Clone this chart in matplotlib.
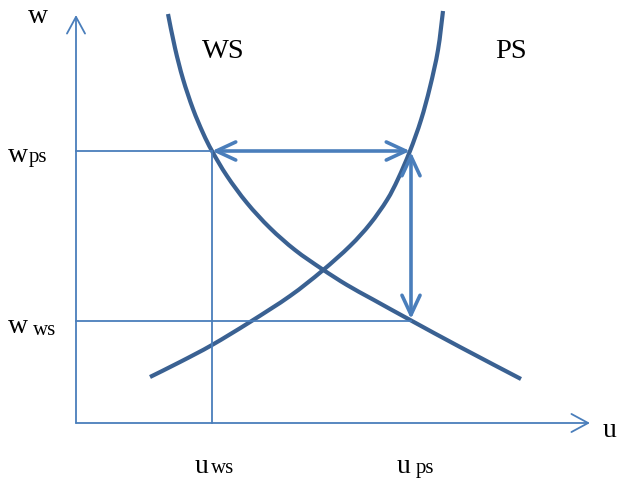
import matplotlib
matplotlib.use("Agg")
import matplotlib.pyplot as plt
import numpy as np
from matplotlib.path import Path
from matplotlib.patches import PathPatch

# diagram units: u to the right of the origin, w up from it (1 unit ~ 1 px)
ws_u = [92, 99, 107, 117, 127, 136, 151, 171, 194, 219, 246, 271, 297, 336, 384, 445]
ws_w = [409, 375, 344, 314, 290, 272, 247, 220, 195, 173, 154, 138, 123.5, 102, 76, 44]

ps_u = [74, 104, 136, 174, 214, 246, 274, 294, 311, 322, 334, 345, 354, 362, 367]
ps_w = [46, 61, 78, 101, 127, 152, 177, 199, 223, 244, 272, 303, 336, 373, 412]

u_ws, u_ps = 136, 335
w_ps, w_ws = 272, 102
u_max, w_max = 514, 408

curve_col = "#3a6192"
line_col = "#4a7ebb"
serif = ["Liberation Serif", "DejaVu Serif"]

fig = plt.figure(figsize=(6.25, 4.81), dpi=100)
ax = fig.add_axes([0, 0, 1, 1])
ax.set_xlim(-76, 549)
ax.set_ylim(-57, 424)
ax.axis("off")


def smooth_curve(xs, ys, **kw):
    # catmull-rom through the read points, drawn as cubic bezier segments
    p = np.column_stack([xs, ys]).astype(float)
    ext = np.vstack([p[0], p, p[-1]])
    verts = [p[0]]
    codes = [Path.MOVETO]
    for i in range(1, len(ext) - 2):
        c1 = ext[i] + (ext[i + 1] - ext[i - 1]) / 6
        c2 = ext[i + 1] - (ext[i + 2] - ext[i]) / 6
        verts += [c1, c2, ext[i + 1]]
        codes += [Path.CURVE4] * 3
    ax.add_patch(PathPatch(Path(verts, codes), fill=False, **kw))


def arrow(x0, y0, x1, y1, style, lw, hl, hw):
    ax.annotate("", xy=(x1, y1), xytext=(x0, y0),
                arrowprops=dict(arrowstyle=f"{style},head_length={hl},head_width={hw}",
                                color=line_col, lw=lw, shrinkA=0, shrinkB=0,
                                mutation_scale=1, capstyle="round",
                                joinstyle="round"))


# axes
arrow(0, 0, 0, w_max, "->", 1.3, 12, 6.5)
arrow(0, 0, u_max, 0, "->", 1.3, 12, 6.5)

# guide lines
ax.plot([0, u_ws], [w_ps, w_ps], color=line_col, lw=1.3)
ax.plot([u_ws, u_ws], [0, w_ps], color=line_col, lw=1.3)
ax.plot([0, u_ps], [w_ws, w_ws], color=line_col, lw=1.3)

# curves
smooth_curve(ws_u, ws_w, edgecolor=curve_col, lw=3.0, capstyle="butt")
smooth_curve(ps_u, ps_w, edgecolor=curve_col, lw=3.0, capstyle="butt")

# movement arrows
arrow(u_ws, w_ps, u_ps - 1, w_ps, "<->", 2.6, 14, 6.5)
arrow(u_ps, w_ps - 1, u_ps, w_ws + 2, "<->", 2.6, 14, 6.5)

# labels
ax.text(-38, 401, "w", fontsize=20, family=serif, ha="center", va="baseline")
ax.text(527, -13, "u", fontsize=20, family=serif, ha="left", va="baseline")
ax.text(126, 366, "WS", fontsize=20.5, family=serif, ha="left", va="baseline")
ax.text(419, 366, "PS", fontsize=20.5, family=serif, ha="left", va="baseline")

ax.text(-68, 262, "w", fontsize=20, family=serif, ha="left", va="baseline")
ax.text(-47, 262, "ps", fontsize=15, family=serif, ha="left", va="baseline")
ax.text(-68, 91, "w", fontsize=20, family=serif, ha="left", va="baseline")
ax.text(-43, 89, "ws", fontsize=15, family=serif, ha="left", va="baseline")

ax.text(119, -49, "u", fontsize=20, family=serif, ha="left", va="baseline")
ax.text(135, -49, "ws", fontsize=15, family=serif, ha="left", va="baseline")
ax.text(321, -49, "u", fontsize=20, family=serif, ha="left", va="baseline")
ax.text(340, -49, "ps", fontsize=15, family=serif, ha="left", va="baseline")

fig.savefig("out.png", dpi=100)
